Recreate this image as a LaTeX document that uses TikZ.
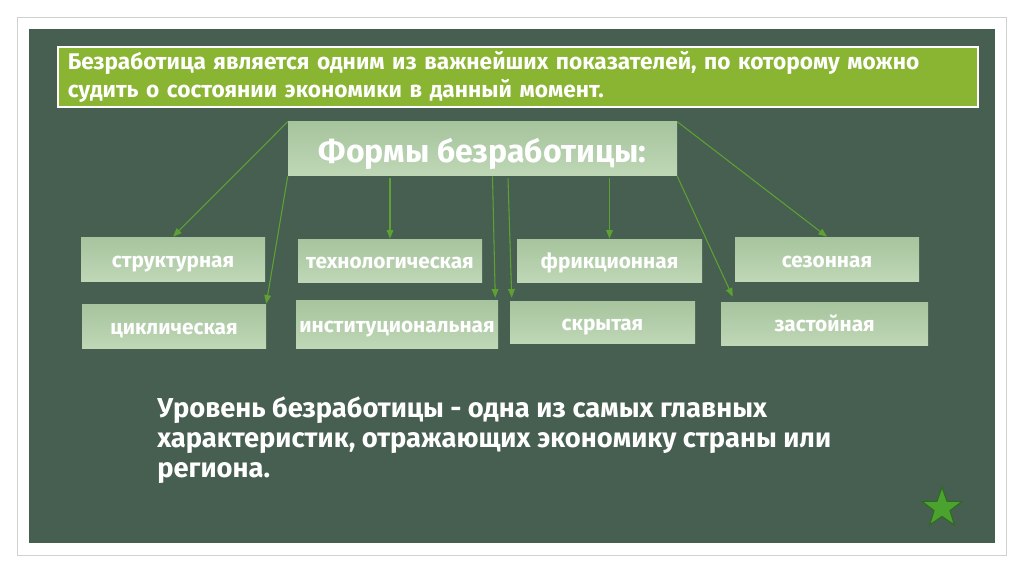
\documentclass[tikz,border=0pt]{standalone}
\usepackage{fontspec}
\setmainfont{Fira Sans}
\usetikzlibrary{arrows.meta,shapes.geometric,calc}
\definecolor{panelgreen}{HTML}{465F50}
\definecolor{leadgreen}{HTML}{8AB532}
\definecolor{boxtop}{HTML}{A6C49D}
\definecolor{boxbottom}{HTML}{BFD7B6}
\definecolor{linkgreen}{HTML}{5EA032}
\definecolor{stargreen}{HTML}{4CA22E}
\definecolor{stardark}{HTML}{2F6A22}

\begin{document}
\begin{tikzpicture}[x=0.75pt, y=-0.75pt, >={Triangle[length=6.5pt,width=5pt]},
    form/.style={rectangle, top color=boxtop, bottom color=boxbottom, text=white,
      font=\bfseries\fontsize{15.6}{18}\selectfont, inner sep=0pt, minimum height=33pt,
      text height=12pt, text depth=0pt},
    link/.style={->, draw=linkgreen, fill=linkgreen, line width=0.8pt}]
        \useasboundingbox (0,0) rectangle (1024,574);

        % Slide frame and board
        \draw[black!18, fill=white] (17,17) rectangle (1006,555);
        \fill[panelgreen] (29,29) rectangle (995,543);

        % Lead statement
        \node[draw=white, line width=1.2pt, fill=leadgreen, anchor=north west,
          minimum width=690pt, minimum height=45pt, text width=675pt, align=left,
          inner xsep=7.5pt, inner ysep=0pt, text=white, font=\bfseries\fontsize{17}{20.5}\selectfont]
          (lead) at (57,46) {Безработица является одним из важнейших показателей, по которому можно\\
          судить о состоянии экономики в данный момент.};

        % Title
        \node[form, font=\bfseries\fontsize{24}{28}\selectfont, minimum width=291.75pt,
          minimum height=40.5pt, text height=19.5pt] (forms) at (482.5,149) {Формы безработицы:};

        % Forms, first row
        \node[form, minimum width=138pt] (struct) at (173,259) {структурная};
        \node[form, minimum width=138pt, minimum height=32.25pt] (tech) at (390,260.5) {технологическая};
        \node[form, minimum width=138.75pt, minimum height=32.25pt] (fric) at (609.5,260.5) {фрикционная};
        \node[form, minimum width=138pt] (season) at (827,259) {сезонная};

        % Forms, second row
        \node[form, minimum width=138pt] (cyc) at (174,326) {циклическая};
        \node[form, minimum width=151.5pt, minimum height=36pt] (inst) at (397,324) {институциональная};
        \node[form, minimum width=138.75pt, minimum height=31.5pt] (hidden) at (602.5,322) {скрытая};
        \node[form, minimum width=155.25pt, minimum height=32.25pt] (stag) at (824.5,323.5) {застойная};

        % Connections
        \draw[link] (forms.north west) -- (struct.north);
        \draw[link] (forms.south west) -- (cyc.north east);
        \draw[link] ($(forms.south -| tech.north)+(0,2)$) -- (tech.north);
        \draw[link] ($(forms.south)+(10,0)$) -- ($(inst.north east)+(-3,-2)$);
        \draw[link] ($(forms.south)+(25.5,2)$) -- ($(hidden.north west)+(2,-3)$);
        \draw[link] ($(forms.south -| fric.north)+(0,2)$) -- (fric.north);
        \draw[link] (forms.south east) -- ($(stag.north west)+(12,-5)$);
        \draw[link] (forms.north east) -- (season.north);

        % Closing statement
        \node[anchor=north west, text=white, align=left, inner sep=0pt,
          font=\bfseries\fontsize{20.5}{22.5}\selectfont] (level) at (157,396)
          {Уровень безработицы - одна из самых главных\\
          характеристик, отражающих экономику страны или\\
          региона.};

        % Star
        \node[star, star points=5, star point ratio=2.5, minimum size=31.5pt, inner sep=0pt,
          draw=stardark, fill=stargreen, line width=0.8pt] (badge) at (942,508) {};
    \end{tikzpicture}
\end{document}
